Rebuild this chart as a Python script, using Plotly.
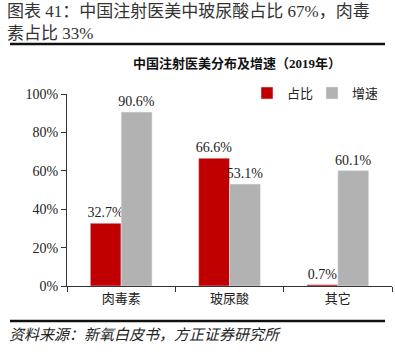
import plotly.graph_objects as go

categories = ["肉毒素", "玻尿酸", "其它"]
share = [0.327, 0.666, 0.007]
growth = [0.906, 0.531, 0.601]
share_labels = ["32.7%", "66.6%", "0.7%"]
growth_labels = ["90.6%", "53.1%", "60.1%"]
series_names = ["占比", "增速"]

RED = "#C00000"
GRAY = "#B2B2B2"
FONT = "Liberation Serif, Noto Sans CJK SC"

fig = go.Figure()
fig.add_trace(go.Bar(x=categories, y=share, name=series_names[0], marker_color=RED,
                     text=share_labels, textposition="outside", cliponaxis=False,
                     constraintext="none",
                     textfont=dict(size=14, color="#222", family=FONT)))
fig.add_trace(go.Bar(x=categories, y=growth, name=series_names[1], marker_color=GRAY,
                     text=growth_labels, textposition="outside", cliponaxis=False,
                     constraintext="none",
                     textfont=dict(size=14, color="#222", family=FONT)))

fig.update_layout(
    width=395, height=359,
    margin=dict(l=67, r=3, t=94, b=73, autoexpand=False),
    paper_bgcolor="white", plot_bgcolor="white",
    barmode="group", bargap=0.43, bargroupgap=0,
    font=dict(family=FONT, size=13, color="#222"),
    showlegend=True,
    legend=dict(orientation="h", x=(247-67)/325, xanchor="left", y=1.005, yanchor="middle",
                font=dict(size=13, family="Noto Sans CJK SC"), itemwidth=30,
                entrywidth=20, entrywidthmode="pixels",
                bgcolor="rgba(0,0,0,0)"),
    xaxis=dict(showline=True, linecolor="#333", linewidth=1, tickson="boundaries",
               ticks="outside", ticklen=5, tickcolor="#333", automargin=False,
               tickfont=dict(size=13, family="Noto Sans CJK SC")),
    yaxis=dict(range=[0, 1], tickvals=[0, 0.2, 0.4, 0.6, 0.8, 1.0], tickformat=".0%",
               showline=True, linecolor="#333", linewidth=1, ticks="outside", ticklen=5,
               tickcolor="#333", showgrid=False, zeroline=False, automargin=False,
               tickfont=dict(size=14, family="Liberation Serif")),
)

fig.add_annotation(text="图表 41：中国注射医美中玻尿酸占比 67%，肉毒<br>素占比 33%",
                   xref="paper", yref="paper", x=-62/325, y=1 + 94/192, xanchor="left",
                   yanchor="top", align="left", showarrow=False,
                   font=dict(size=17, family=FONT, color="#333"))
fig.add_annotation(text="<b>中国注射医美分布及增速（2019年）</b>",
                   xref="paper", yref="paper", x=(237-67)/325, y=1 + (94-63)/192,
                   xanchor="center", yanchor="middle", showarrow=False,
                   font=dict(size=13, family=FONT, color="#111"))
fig.add_annotation(text="<i>资料来源：新氧白皮书，方正证券研究所</i>",
                   xref="paper", yref="paper", x=-60/325, y=-(335-286)/192,
                   xanchor="left", yanchor="middle", showarrow=False,
                   font=dict(size=15, family=FONT, color="#222"))
for yy in [44, 321]:
    fig.add_shape(type="line", xref="paper", yref="paper",
                  x0=-57/325, x1=(385-67)/325, y0=1 - (yy-94)/192, y1=1 - (yy-94)/192,
                  line=dict(color="#111", width=2.5))

fig.write_html("out.html", config={"displayModeBar": False},
               post_script="document.body.style.margin='0';")
